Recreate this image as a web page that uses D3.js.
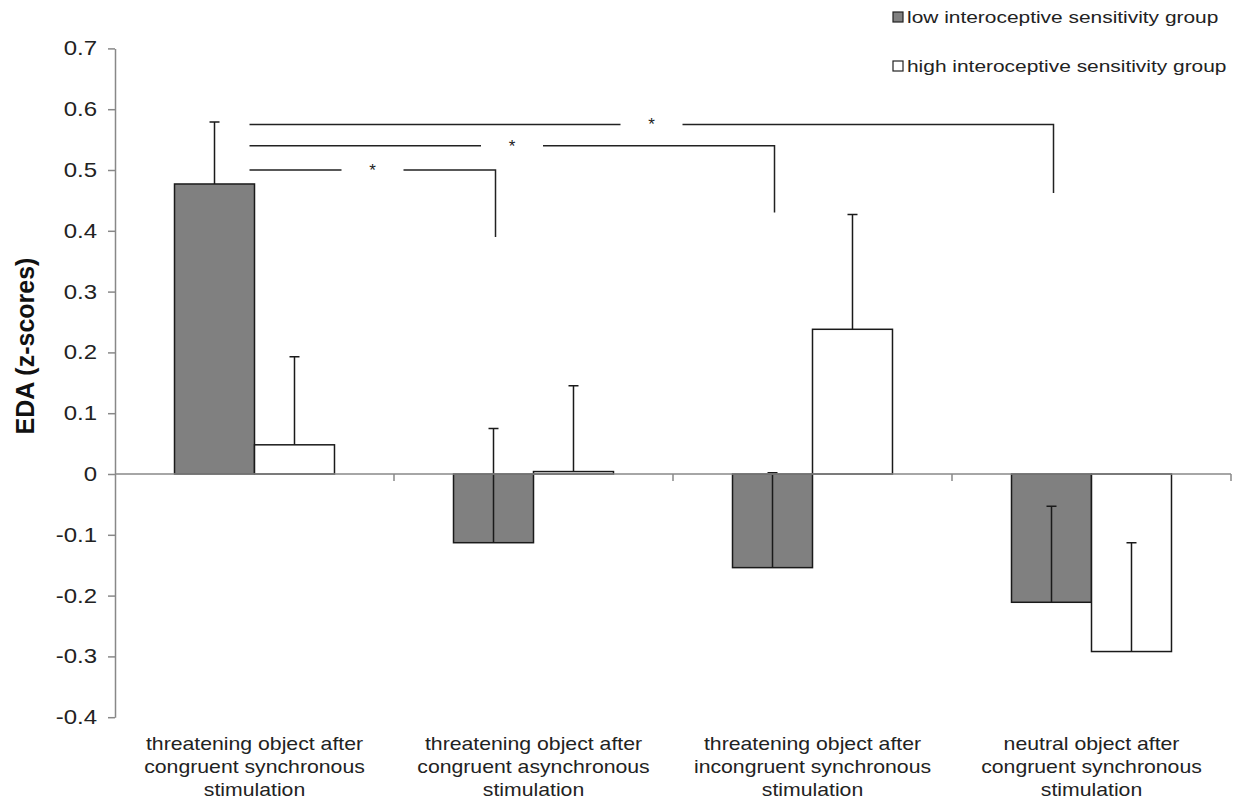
<!DOCTYPE html>
<html>
<head>
<meta charset="utf-8">
<script src="https://cdn.jsdelivr.net/npm/d3@7"></script>
<style>
  html, body { margin: 0; padding: 0; background: #ffffff; }
  svg { display: block; font-family: "Liberation Sans", Arial, sans-serif; }
</style>
</head>
<body>
<svg id="chart" width="1246" height="803"></svg>
<script>
// ---- data ----
const categories = [
  ["threatening object after", "congruent synchronous", "stimulation"],
  ["threatening object after", "congruent asynchronous", "stimulation"],
  ["threatening object after", "incongruent synchronous", "stimulation"],
  ["neutral object after", "congruent synchronous", "stimulation"]
];
const groups = ["low interoceptive sensitivity group", "high interoceptive sensitivity group"];
const lowMeans = [0.477, -0.113, -0.154, -0.211];
const lowErr   = [0.102, 0.188, 0.156, 0.158];
const highMeans = [0.048, 0.004, 0.238, -0.292];
const highErr   = [0.145, 0.141, 0.189, 0.179];
const yTickValues = [-0.4, -0.3, -0.2, -0.1, 0, 0.1, 0.2, 0.3, 0.4, 0.5, 0.6, 0.7];
const yTickLabels = ["-0.4", "-0.3", "-0.2", "-0.1", "0", "0.1", "0.2", "0.3", "0.4", "0.5", "0.6", "0.7"];
const yTitle = "EDA (z-scores)";
// significance brackets: from category 0 to category "to"
const brackets = [
  { to: 1, level: 0.500, drop: 0.390, label: "*" },
  { to: 2, level: 0.540, drop: 0.430, label: "*" },
  { to: 3, level: 0.575, drop: 0.462, label: "*" }
];

// ---- layout ----
const svg = d3.select("#chart");
const plotLeft = 115, plotRight = 1231, plotTop = 48.4, plotBottom = 717.2;
const groupColors = ["#808080", "#ffffff"];
const stretch = 1.2;

const x0 = d3.scaleBand().domain(d3.range(categories.length)).range([plotLeft, plotRight]).padding(0);
const x1 = d3.scaleBand().domain([0, 1]).range([0, x0.bandwidth()]).paddingInner(0).paddingOuter(0.744);
const y = d3.scaleLinear().domain([-0.4, 0.7]).range([plotBottom, plotTop]);

const seriesData = [];
categories.forEach((c, i) => {
  seriesData.push({ cat: i, g: 0, v: lowMeans[i], e: lowErr[i] });
  seriesData.push({ cat: i, g: 1, v: highMeans[i], e: highErr[i] });
});

// y axis
const yAxis = d3.axisLeft(y)
  .tickValues(yTickValues)
  .tickFormat((d, i) => yTickLabels[i])
  .tickSize(7).tickSizeOuter(0).tickPadding(11);
const gy = svg.append("g").attr("transform", `translate(${plotLeft},0)`).call(yAxis);
gy.select(".domain").attr("stroke", "#888").attr("stroke-width", 1.5);
gy.selectAll(".tick line").attr("stroke", "#888").attr("stroke-width", 1.5);
gy.selectAll(".tick text")
  .attr("fill", "#222").attr("font-size", 20)
  .attr("font-family", "'Liberation Sans', Arial, sans-serif")
  .each(function () {
    const t = d3.select(this);
    const xx = +t.attr("x");
    t.attr("x", 0).attr("transform", `translate(${xx},0) scale(${stretch},1)`);
  });

// y title
svg.append("text")
  .attr("transform", `translate(25,346) rotate(-90)`)
  .attr("text-anchor", "middle")
  .attr("dominant-baseline", "central")
  .attr("font-size", 25).attr("font-weight", "bold").attr("fill", "#111")
  .text(yTitle);

// brackets
const bracketG = svg.append("g");
brackets.forEach(b => {
  const xs = x0(0) + x0.bandwidth() / 2 - 5;
  const xe = x0(b.to) + x1(0) + x1.bandwidth() / 2 + 2;
  const xm = (xs + xe) / 2;
  const ly = y(b.level);
  const gap = 31;
  bracketG.append("path")
    .attr("d", `M${xs},${ly}H${xm - gap}M${xm + gap},${ly}H${xe}V${y(b.drop)}`)
    .attr("fill", "none").attr("stroke", "#222").attr("stroke-width", 1.5);
  bracketG.append("text")
    .attr("x", xm).attr("y", ly + 6)
    .attr("text-anchor", "middle")
    .attr("font-size", 17).attr("fill", "#222")
    .text(b.label);
});

// bars
svg.append("g").selectAll("rect").data(seriesData).join("rect")
  .attr("x", d => x0(d.cat) + x1(d.g))
  .attr("width", x1.bandwidth())
  .attr("y", d => y(Math.max(0, d.v)))
  .attr("height", d => Math.abs(y(d.v) - y(0)))
  .attr("fill", d => groupColors[d.g])
  .attr("stroke", "#1a1a1a").attr("stroke-width", 1.5);

// error bars (upward only)
const eg = svg.append("g").attr("stroke", "#1a1a1a").attr("stroke-width", 1.5).attr("fill", "none");
seriesData.forEach(d => {
  const cx = x0(d.cat) + x1(d.g) + x1.bandwidth() / 2;
  const y1v = y(d.v), y2v = y(d.v + d.e);
  eg.append("path").attr("d", `M${cx},${y1v}V${y2v}M${cx - 5},${y2v}H${cx + 5}`);
});

// x axis (zero line) with category boundary ticks
const gx = svg.append("g").attr("stroke", "#888").attr("stroke-width", 1.5);
gx.append("line").attr("x1", plotLeft).attr("x2", plotRight).attr("y1", y(0)).attr("y2", y(0));
d3.range(1, categories.length + 1).forEach(i => {
  const bx = i < categories.length ? x0(i) : plotRight;
  gx.append("line").attr("x1", bx).attr("x2", bx).attr("y1", y(0)).attr("y2", y(0) + 7);
});

// category labels
const lab = svg.append("g");
categories.forEach((lines, i) => {
  const cx = x0(i) + x0.bandwidth() / 2;
  lines.forEach((ln, k) => {
    lab.append("text")
      .attr("transform", `translate(${cx},${750 + k * 23}) scale(1.18,1)`)
      .attr("text-anchor", "middle")
      .attr("font-size", 18).attr("fill", "#222")
      .text(ln);
  });
});

// legend
const leg = svg.append("g");
groups.forEach((g, i) => {
  const ly = 12 + i * 49;
  leg.append("rect").attr("x", 893).attr("y", ly).attr("width", 10).attr("height", 10)
    .attr("fill", groupColors[i]).attr("stroke", "#222").attr("stroke-width", 1.2);
  leg.append("text")
    .attr("transform", `translate(907,${ly + 11}) scale(1.23,1)`)
    .attr("font-size", 17).attr("fill", "#222")
    .text(g);
});
</script>
</body>
</html>
